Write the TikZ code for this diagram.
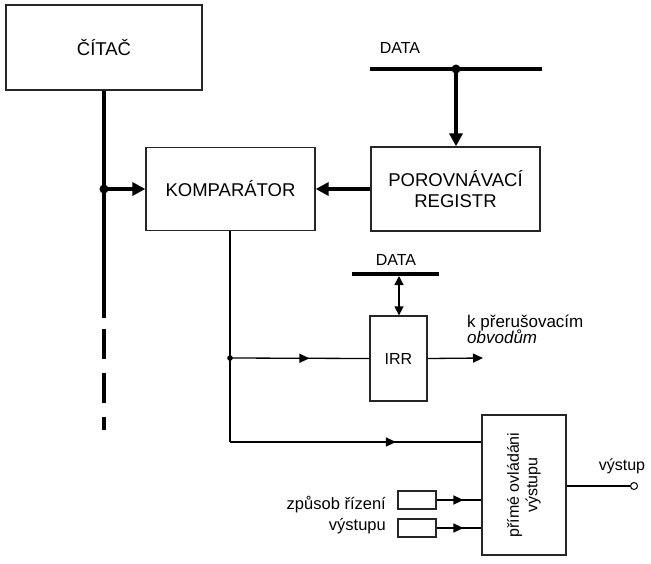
\documentclass[tikz,border=0pt]{standalone}
\usepackage{fontspec}
\setmainfont{Liberation Sans}
\usetikzlibrary{arrows.meta,decorations.markings}
\newcommand{\fsz}[1]{\fontsize{#1}{#1}\selectfont}
\tikzset{
  boxst/.style={draw=black!85, line width=1.3pt, inner sep=0pt, rectangle},
  bigtext/.style={font=\fontsize{18.5}{20.5}\selectfont, align=center},
  buswidth/.style={line width=4pt},
  thinline/.style={line width=1.3pt},
  bigtip/.style={-{Triangle[length=13pt,width=13pt]}},
  midarrow/.style={postaction={decorate},decoration={markings,
     mark=at position #1 with {\arrow{Triangle[length=10pt,width=9pt]}}}},
  lbl/.style={inner sep=0pt}
}
\begin{document}
\begin{tikzpicture}[x=1pt,y=-1pt]
\useasboundingbox (0,0) rectangle (651,563);

% boxes
\node[boxst, bigtext, minimum width=196pt, minimum height=85pt] (citac) at (104,47.5) {ČÍTAČ};
\node[boxst, bigtext, minimum width=169pt, minimum height=83pt] (komp) at (230.5,189) {KOMPARÁTOR};
\node[boxst, bigtext, minimum width=169pt, minimum height=84pt] (preg) at (455.5,189) {POROVNÁVACÍ\\REGISTR};
\node[boxst, font=\fsz{16}, minimum width=57pt, minimum height=85pt] (irr) at (398.5,358.5) {IRR};
\node[boxst, minimum width=84pt, minimum height=140pt] (prime) at (524,485) {};
\node[rotate=90, align=center, font=\fontsize{16}{18.5}\selectfont] (primetext) at (prime.center) {přímé ovládáni\\výstupu};
\node[boxst, minimum width=38pt, minimum height=18pt] (sb1) at (417,500) {};
\node[boxst, minimum width=38pt, minimum height=18pt] (sb2) at (417,528) {};

% counter bus
\coordinate (busend) at (104,430);
\coordinate (jk) at (104,189);
\draw[buswidth, dash pattern=on 227pt off 11pt on 30pt off 14pt on 30pt off 14pt on 14pt off 100pt] (citac.south) -- (busend);
\fill (jk) circle[radius=4.5pt];
\draw[buswidth, bigtip] (jk) -- (komp.west);

% DATA bus 1
\coordinate (d1l) at (370,69);
\coordinate (d1r) at (542,69);
\coordinate (d1j) at (456,69);
\node[lbl, font=\fsz{16}] (data1) at (400,48) {DATA};
\draw[buswidth] (d1l) -- (d1r);
\fill (d1j) circle[radius=4.5pt];
\draw[buswidth, bigtip] (d1j) -- (d1j |- preg.north);
\draw[buswidth, bigtip] (preg.west) -- (komp.east);

% comparator output
\coordinate (jirr) at (230,358);
\coordinate (corner) at (230,442);
\draw[thinline] (komp.south -| corner) -- (corner);
\fill (jirr) circle[radius=2.8pt];
\draw[thinline, midarrow=0.57] (jirr) -- (irr.west);
\draw[thinline, midarrow=0.66] (corner) -- (prime.west |- corner);

% DATA bus 2
\coordinate (d2l) at (352,274);
\coordinate (d2r) at (439,274);
\coordinate (d2j) at (399,274);
\node[lbl, font=\fsz{16}] (data2) at (396,260) {DATA};
\draw[buswidth] (d2l) -- (d2r);
\draw[thinline, {Triangle[length=9pt,width=9pt]}-{Triangle[length=9pt,width=9pt]}] (d2j |- d2l) ++(0,2) coordinate (d2s) (d2s) -- (d2j |- irr.north);

% IRR output
\coordinate (irrout) at (483,358);
\draw[thinline, -{Triangle[length=10pt,width=9pt]}] (irr.east) -- (irrout);
\node[lbl, anchor=base west, font=\fsz{17}] (k1) at (467,327) {k přerušovacím};
\node[lbl, anchor=base west, font=\fsz{17}\itshape] (k2) at (467,343) {obvodům};

% mode inputs
\draw[thinline, midarrow=0.6] (sb1.east) -- (prime.west |- sb1.east);
\draw[thinline, midarrow=0.6] (sb2.east) -- (prime.west |- sb2.east);
\node[lbl, anchor=base east, font=\fsz{16.5}] (z1) at (386,509) {způsob řízení};
\node[lbl, anchor=base east, font=\fsz{16.5}] (z2) at (386,530) {výstupu};

% output
\coordinate (outc) at (634,486);
\draw[thinline] (prime.east |- outc) -- ([xshift=-3.5pt]outc);
\draw[line width=1pt, fill=white] (outc) circle[radius=3.5pt];
\node[lbl, anchor=base, font=\fsz{16}] (vys) at (622,470) {výstup};
\end{tikzpicture}
\end{document}
